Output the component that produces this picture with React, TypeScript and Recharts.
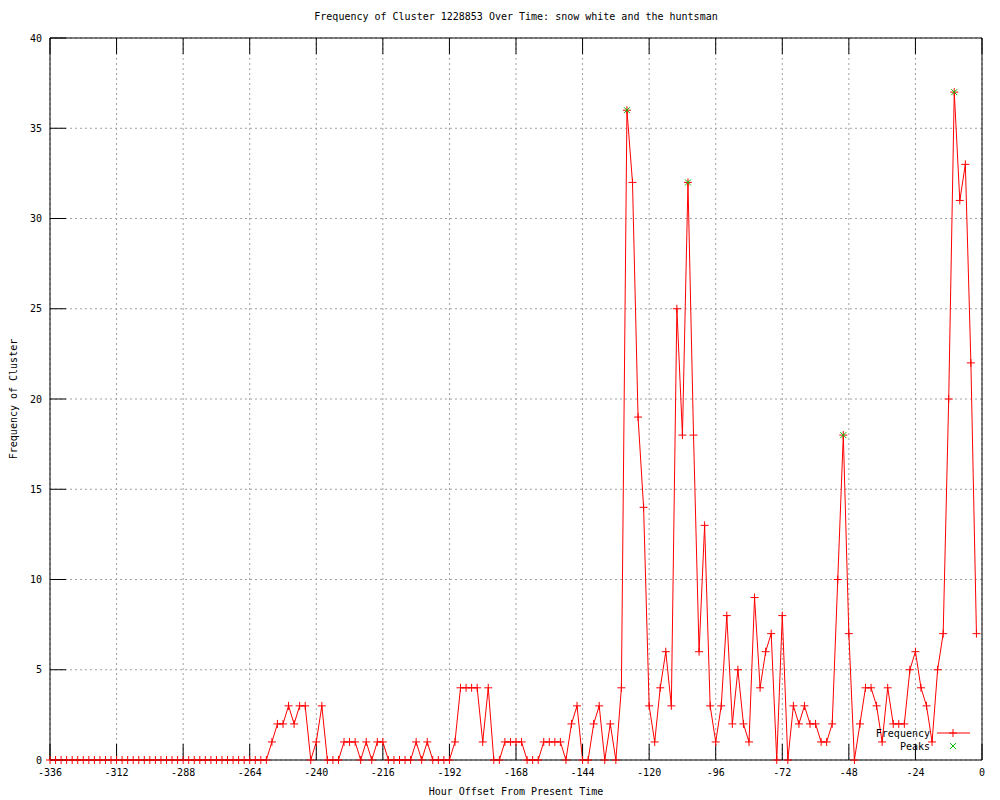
import { CartesianGrid, ComposedChart, Line, XAxis, YAxis } from "recharts";

// frequency every 2 hours, from -336 up to -2
const freq = [
  0, 0, 0, 0, 0, 0, 0, 0, 0, 0, 0, 0, 0, 0, 0, 0, 0, 0, 0, 0,
  0, 0, 0, 0, 0, 0, 0, 0, 0, 0, 0, 0, 0, 0, 0, 0, 0, 0, 0, 0,
  1, 2, 2, 3, 2, 3, 3, 0, 1, 3,
  0, 0, 0, 1, 1, 1, 0, 1, 0, 1,
  1, 0, 0, 0, 0, 0, 1, 0, 1, 0,
  0, 0, 0, 1, 4, 4, 4, 4, 1, 4,
  0, 0, 1, 1, 1, 1, 0, 0, 0, 1,
  1, 1, 1, 0, 2, 3, 0, 0, 2, 3,
  0, 2, 0, 4, 36, 32, 19, 14, 3, 1,
  4, 6, 3, 25, 18, 32, 18, 6, 13, 3,
  1, 3, 8, 2, 5, 2, 1, 9, 4, 6,
  7, 0, 8, 0, 3, 2, 3, 2, 2, 1,
  1, 2, 10, 18, 7, 0, 2, 4, 4, 3,
  1, 4, 2, 2, 2, 5, 6, 4, 3, 1,
  5, 7, 20, 37, 31, 33, 22, 7,
];
const startHour = -336;
const step = 2;

const peakHours = [-128, -106, -50, -10];
const peakValues = [36, 32, 18, 37];

const xTicks = [-336, -312, -288, -264, -240, -216, -192, -168, -144, -120, -96, -72, -48, -24, 0];
const yTicks = [0, 5, 10, 15, 20, 25, 30, 35, 40];

const rows = freq.map((v, i) => {
  const hour = startHour + i * step;
  const p = peakHours.indexOf(hour);
  return { hour, freq: v, peak: p >= 0 ? peakValues[p] : null };
});

const FONT = "'DejaVu Sans Mono', monospace";
const RED = "#ff0000";
const GREEN = "#00c000";

const PlusDot = (props: any) => {
  const { cx, cy, index } = props;
  if (cx == null || cy == null) return <g key={index} />;
  return (
    <path key={index} d={`M${cx - 4},${cy}h8M${cx},${cy - 4}v8`} stroke={RED} strokeWidth={1} fill="none" />
  );
};

const CrossDot = (props: any) => {
  const { cx, cy, index, value } = props;
  if (cx == null || cy == null || value == null) return <g key={index} />;
  return (
    <path key={index} d={`M${cx - 3},${cy - 3}l6,6M${cx - 3},${cy + 3}l6,-6`} stroke={GREEN} strokeWidth={1} fill="none" />
  );
};

const NoLabel = () => <g />;

export default function App() {
  return (
    <div style={{ position: "absolute", left: 0, top: 0, width: 1000, height: 800, fontFamily: FONT }}>
      <div style={{ position: "absolute", left: 50, width: 932, top: 11, textAlign: "center", fontSize: 10 }}>
        Frequency of Cluster 1228853 Over Time: snow white and the huntsman
      </div>
      <ComposedChart width={1000} height={800} data={rows} margin={{ top: 37, right: 17, bottom: 0, left: 0 }}>
        <CartesianGrid stroke="#a0a0a0" strokeDasharray="2 3" />
        <XAxis
          dataKey="hour"
          type="number"
          domain={[-336, 0]}
          ticks={xTicks}
          interval={0}
          height={40}
          tickSize={-16}
          tickMargin={25}
          stroke="#000"
          tick={{ fontFamily: FONT, fontSize: 10, fill: "#000" }}
        />
        <XAxis
          xAxisId="top"
          dataKey="hour"
          type="number"
          orientation="top"
          domain={[-336, 0]}
          ticks={xTicks}
          interval={0}
          height={1}
          tickSize={-16}
          tick={NoLabel}
          stroke="#000"
        />
        <YAxis
          type="number"
          domain={[0, 40]}
          ticks={yTicks}
          interval={0}
          width={50}
          tickSize={-16}
          tickMargin={24}
          stroke="#000"
          tick={{ fontFamily: FONT, fontSize: 10, fill: "#000" }}
        />
        <YAxis
          yAxisId="right"
          orientation="right"
          type="number"
          domain={[0, 40]}
          ticks={yTicks}
          interval={0}
          width={1}
          tickSize={-16}
          tick={NoLabel}
          stroke="#000"
        />
        <Line
          dataKey="freq"
          stroke={RED}
          strokeWidth={1}
          dot={PlusDot}
          activeDot={false}
          isAnimationActive={false}
        />
        <Line
          dataKey="peak"
          stroke="none"
          dot={CrossDot}
          activeDot={false}
          isAnimationActive={false}
        />
      </ComposedChart>
      <svg
        width={120}
        height={30}
        style={{ position: "absolute", left: 860, top: 726, fontFamily: FONT, fontSize: 10 }}
      >
        <text x={70} y={11} textAnchor="end">Frequency</text>
        <line x1={77} y1={7} x2={110} y2={7} stroke={RED} />
        <path d="M89,7h8M93,3v8" stroke={RED} fill="none" />
        <text x={70} y={24} textAnchor="end">Peaks</text>
        <path d="M90,17l6,6M90,23l6,-6" stroke={GREEN} fill="none" />
      </svg>
      <div style={{ position: "absolute", left: 50, width: 932, top: 786, textAlign: "center", fontSize: 10 }}>
        Hour Offset From Present Time
      </div>
      <div
        style={{
          position: "absolute",
          left: 13,
          top: 399,
          fontSize: 10,
          whiteSpace: "nowrap",
          transform: "translate(-50%, -50%) rotate(-90deg)",
        }}
      >
        Frequency of Cluster
      </div>
    </div>
  );
}
